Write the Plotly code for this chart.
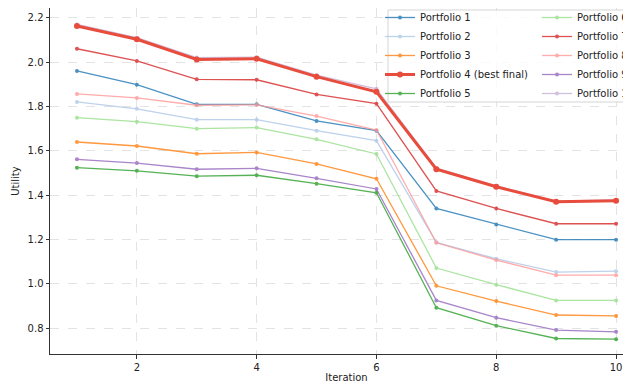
import plotly.graph_objects as go

iterations = [1, 2, 3, 4, 5, 6, 7, 8, 9, 10]
names = ["Portfolio 1", "Portfolio 2", "Portfolio 3", "Portfolio 4 (best final)", "Portfolio 5",
         "Portfolio 6", "Portfolio 7", "Portfolio 8", "Portfolio 9", "Portfolio 10"]
p1 = [1.961, 1.899, 1.810, 1.810, 1.735, 1.691, 1.340, 1.268, 1.199, 1.199]
p2 = [1.821, 1.790, 1.741, 1.741, 1.691, 1.646, 1.187, 1.113, 1.053, 1.057]
p3 = [1.640, 1.622, 1.587, 1.593, 1.541, 1.474, 0.991, 0.922, 0.859, 0.855]
p4 = [2.164, 2.104, 2.013, 2.016, 1.935, 1.867, 1.517, 1.438, 1.370, 1.375]
p5 = [1.524, 1.510, 1.486, 1.490, 1.452, 1.411, 0.892, 0.811, 0.753, 0.750]
p6 = [1.750, 1.732, 1.700, 1.705, 1.652, 1.586, 1.071, 0.996, 0.925, 0.925]
p7 = [2.061, 2.006, 1.923, 1.921, 1.855, 1.813, 1.419, 1.340, 1.271, 1.271]
p8 = [1.857, 1.839, 1.806, 1.808, 1.757, 1.694, 1.185, 1.107, 1.039, 1.039]
p9 = [1.562, 1.545, 1.517, 1.521, 1.476, 1.428, 0.925, 0.847, 0.791, 0.783]
p10 = [2.171, 2.111, 2.021, 2.023, 1.942, 1.880, 1.522, 1.442, 1.373, 1.379]
series = [p1, p2, p3, p4, p5, p6, p7, p8, p9, p10]
colors = ["#1f77b4", "#aec7e8", "#ff7f0e", "#e74c3c", "#2ca02c",
          "#98df8a", "#d62728", "#ff9896", "#9467bd", "#c5b0d5"]
best = 3

# page body has an 8px margin: figure is placed at (8, 8) in the window.
# The original axes run past the right edge of the 631px picture (to ~643px).
OFF = 8
PLOT_RIGHT = 643
W, H = 670 - OFF, 385 - OFF
L, T, B = 50 - OFF, 8 - OFF, 385 - 354
R = W - (PLOT_RIGHT - OFF)
pw, ph = W - L - R, H - T - B

def px(p):
    return (p - OFF - L) / pw

def py(p):
    return 1 - (p - OFF - T) / ph

fig = go.Figure()
order = [i for i in range(10) if i != best] + [best]
for i in order:
    is_best = i == best
    fig.add_trace(go.Scatter(
        x=iterations, y=series[i], name=names[i], mode="lines+markers",
        line=dict(color=colors[i], width=3 if is_best else 1.3),
        marker=dict(color=colors[i], size=6 if is_best else 4),
        opacity=1.0 if is_best else 0.8,
        legend="legend" if i < 5 else "legend2",
        legendrank=i + 1,
    ))

font = dict(family="DejaVu Sans", size=10, color="#222222")
axis_common = dict(
    showgrid=True, gridcolor="#e3e3e3", griddash="dash", gridwidth=0.8,
    zeroline=False, showline=True, linecolor="#333333", linewidth=1,
    ticks="outside", ticklen=3.5, tickcolor="#333333", tickfont=font,
    automargin=False,
)
fig.update_layout(
    width=W, height=H,
    margin=dict(l=L, r=R, t=T, b=B, autoexpand=False),
    paper_bgcolor="white", plot_bgcolor="white",
    font=font,
    xaxis=dict(range=[0.55, 10.45], tickvals=[2, 4, 6, 8, 10], mirror=True,
               title=dict(text="Iteration", font=font, standoff=2), **axis_common),
    yaxis=dict(range=[0.683, 2.245], tickvals=[0.8, 1.0, 1.2, 1.4, 1.6, 1.8, 2.0, 2.2],
               tickformat=".1f", title=dict(text="Utility", font=font, standoff=6), **axis_common),
    legend=dict(x=px(380), y=py(3), xanchor="left", yanchor="top",
                bgcolor="rgba(0,0,0,0)", font=font, itemwidth=30, tracegroupgap=0),
    legend2=dict(x=px(537), y=py(3), xanchor="left", yanchor="top",
                 bgcolor="rgba(0,0,0,0)", font=font, itemwidth=30, tracegroupgap=0),
    shapes=[dict(type="rect", xref="paper", yref="paper", x0=px(388), x1=px(640),
                 y0=py(102), y1=py(10), fillcolor="rgba(255,255,255,0.8)",
                 line=dict(color="#d5d5d5", width=1), layer="above")],
    showlegend=True,
)
fig.write_html("out.html")
